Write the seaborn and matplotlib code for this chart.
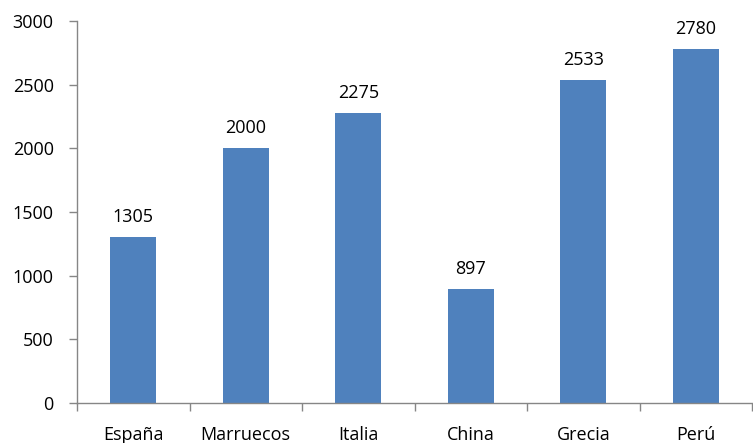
import matplotlib
matplotlib.use("Agg")
import matplotlib.pyplot as plt
import seaborn as sns
import pandas as pd
import numpy as np

paises = ["España", "Marruecos", "Italia", "China", "Grecia", "Perú"]
valores = [1305, 2000, 2275, 897, 2533, 2780]
yticks = [0, 500, 1000, 1500, 2000, 2500, 3000]

sns.set_theme(style="white")
plt.rcParams['font.family'] = ['Open Sans', 'DejaVu Sans']

df = pd.DataFrame({"pais": paises, "valor": valores})

FS = 13
fig = plt.figure(figsize=(7.53, 4.43), dpi=100)
ax = fig.add_axes([77/753, 1-403/443, 1-77/753-1/753, (403-21)/443])
sns.barplot(data=df, x="pais", y="valor", color="#4F81BD", saturation=1, width=0.41,
            linewidth=0, ax=ax)

ax.set_xlim(-0.5, len(paises)-0.5)
ax.set_ylim(0, 3000)
ax.set_yticks(yticks)
ax.set_yticklabels([str(v) for v in yticks], fontsize=FS, color="black")
ax.set_xlabel("")
ax.set_ylabel("")
ax.tick_params(axis="x", length=0, pad=16.5, labelsize=FS, labelcolor="black")
ax.set_xticks(np.arange(-0.5, len(paises)), minor=True)
ax.tick_params(axis="x", which="minor", length=5.5, width=1, color="#868686", direction="out", bottom=True)
ax.tick_params(axis="y", length=5.8, width=1, color="#868686", direction="out", left=True, pad=11)

for s in ["top", "right"]:
    ax.spines[s].set_visible(False)
for s in ["left", "bottom"]:
    ax.spines[s].set_color("#868686")
    ax.spines[s].set_linewidth(1)

for i, v in enumerate(valores):
    ax.annotate(str(v), (i, v), xytext=(0, 8), textcoords="offset points",
                ha="center", va="bottom", fontsize=FS, color="black")

fig.savefig("out.png", dpi=100)
